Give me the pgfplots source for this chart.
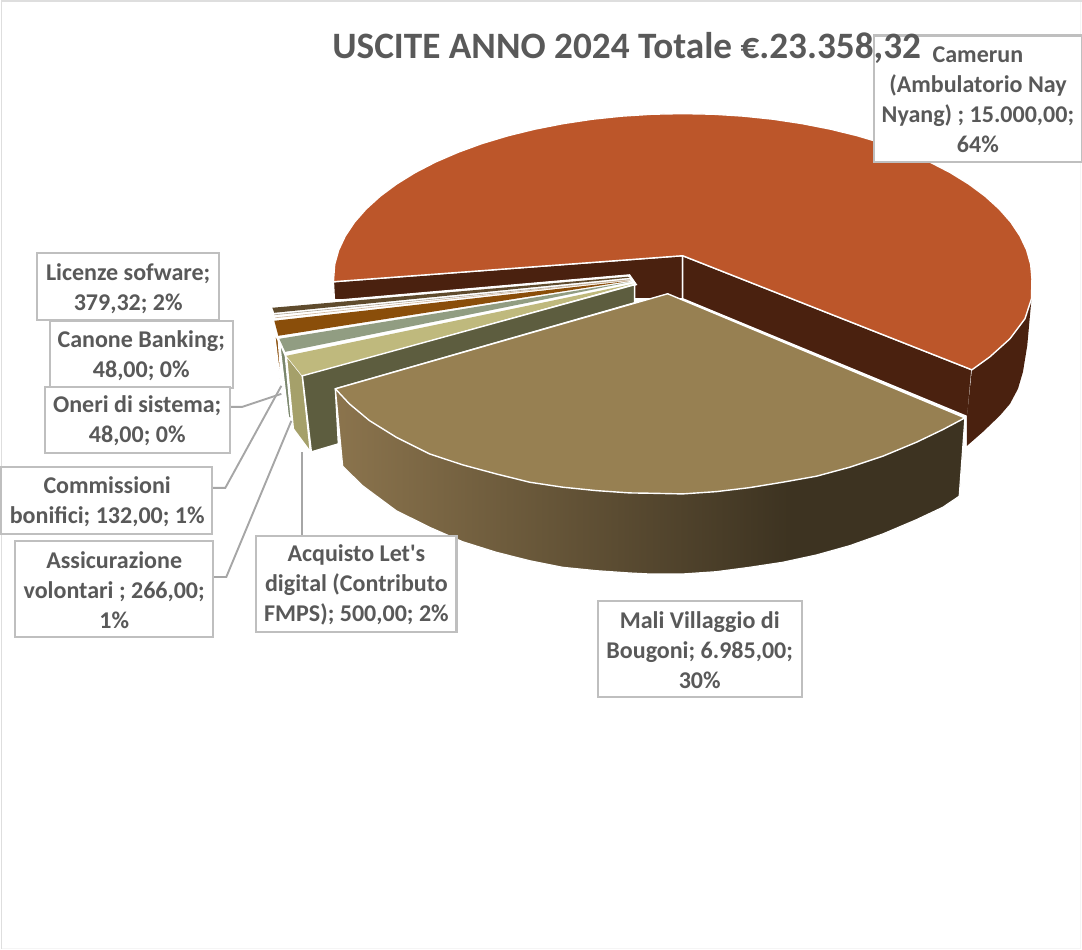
\documentclass[border=0pt]{standalone}
\usepackage{fontspec}
\newfontfamily\carl{Carlito}
\usepackage{pgfplots}
\pgfplotsset{compat=1.18}
\definecolor{txt}{RGB}{89,89,89}
\definecolor{rim}{RGB}{191,191,191}
\definecolor{lead}{RGB}{166,166,166}
\definecolor{redtop}{RGB}{188,86,42}
\definecolor{redside}{RGB}{74,33,15}
\definecolor{malitop}{RGB}{151,128,82}
\definecolor{maliL}{RGB}{139,116,77}
\definecolor{maliR}{RGB}{61,51,33}
\definecolor{olive}{RGB}{93,93,63}
\definecolor{khaki}{RGB}{191,185,125}
\definecolor{khakiS}{RGB}{165,160,106}
\definecolor{sage}{RGB}{145,157,130}
\definecolor{sageS}{RGB}{122,134,108}
\definecolor{tan1}{RGB}{138,78,10}
\definecolor{lic}{RGB}{95,75,45}
\pgfdeclarehorizontalshading{mali}{100bp}{color(0bp)=(maliL); color(25bp)=(maliL); color(61bp)=(maliR); color(100bp)=(maliR)}
\newcommand{\lab}[3]{\node[align=center,text=txt,font=\carl\bfseries\fontsize{24}{30}\selectfont,inner sep=0pt] at (axis cs:#1,#2) {#3};}
\begin{document}
\begin{tikzpicture}
\begin{axis}[
  scale only axis, width=1082pt, height=950pt,
  xmin=0, xmax=1082, ymin=0, ymax=950, y dir=reverse,
  hide axis, no marks,
  slice/.style={draw=white, line width=1.4pt, line join=round, fill=#1},
  box/.style={draw=rim, line width=2.2pt, fill=white},
  leader/.style={draw=lead, line width=1.9pt},
]
% frame of the chart area
\addplot[draw=black!4, line width=1pt] coordinates {(1080,2) (1080,949) (2,949)};
\addplot[draw=black!13, line width=1.5pt] coordinates {(2.5,950) (2.5,2.5) (1082,2.5)};

% Camerun: inner walls, outer wall, top
\addplot[slice=redside] coordinates {(683,257) (334,283) (335,301) (683,300)} --cycle;
\addplot[slice=redside] coordinates {(683,257) (972,371) (968,418) (683,300)} --cycle;
\addplot[fill=redside, draw=none] coordinates {(1031.7,298) (1030,316.7) (1027.3,346.7) (1023,373) (1018,390) (1010,405) (1000,416.7) (983,433) (967,447) (967,418) (972,371)} --cycle;
\addplot[slice=redtop] coordinates {(683,257) (334,283) (335.3,265.6) (339.3,251.3) (345.9,237.3) (355,223.6) (366.7,210.3) (380.8,197.5) (397.1,185.4) (415.7,173.9) (436.2,163.3) (458.7,153.6) (482.8,144.8) (508.5,137.1) (535.5,130.5) (563.6,125) (592.7,120.6) (622.4,117.5) (652.6,115.6) (683,115) (713.4,115.6) (743.6,117.5) (773.3,120.6) (802.4,125) (830.5,130.5) (857.5,137.1) (883.2,144.8) (907.3,153.6) (929.8,163.3) (950.3,173.9) (968.9,185.4) (985.2,197.5) (999.3,210.3) (1011,223.6) (1020.1,237.3) (1026.7,251.3) (1030.7,265.6) (1032,280) (1031.5,300) (1025,320) (1010,340) (990,358) (972,371)} --cycle;

% small slices
\addplot[fill=white, draw=white, line width=1pt] coordinates {(272,307) (630,276) (637,286) (303,380) (285,360) (278,342) (274,332)} --cycle;
\addplot[slice=tan1] coordinates {(275,334) (279,342) (284,407)} --cycle;
\addplot[slice=sageS] coordinates {(280,343) (286,357) (292,421) (289,418)} --cycle;
\addplot[slice=khakiS] coordinates {(287,357) (303,377) (311,453) (294,430)} --cycle;
\addplot[fill=lic, draw=none] coordinates {(273,309) (275,314) (630,279) (628,278)} --cycle;
\addplot[draw=lic!50!white, line width=.6pt] coordinates {(275,316) (630,281)};
\addplot[draw=tan1!40!white, line width=.6pt] coordinates {(276,319) (630,281)};
\addplot[fill=tan1, draw=none] coordinates {(275,322) (279,337) (631,282)} --cycle;
\addplot[fill=sage, draw=none] coordinates {(280,340) (286,353) (632,283)} --cycle;
\addplot[fill=khaki, draw=none] coordinates {(287,357) (303,377) (634,285)} --cycle;

% Acquisto wall
\addplot[slice=olive] coordinates {(303,377) (635,286) (635,304) (336,390) (339,445) (312,453)} --cycle;

% Mali: wall and top
\addplot[draw=white, line width=1.2pt, shade, shading=mali] coordinates {(336,390) (343.3,467.3) (363,486.7) (396.7,511.7) (430,528.3) (463,542.7) (496.7,553.3) (530,561.7) (563,568.3) (596.7,571.7) (630,574) (650,575) (683,575) (716.7,572.7) (750,568.3) (783,563.3) (816.7,556) (850,546.7) (883,535) (916.7,520.7) (943,508.3) (959.3,497.3) (965,419)} --cycle;
\addplot[slice=malitop] coordinates {(668,295) (336,390) (350,405) (370,421.7) (396.7,438.3) (430,455) (463.3,466) (496.7,475) (530,483.3) (563.3,488.3) (596.7,491.7) (630,494) (650,494.3) (683,495) (716.7,492.7) (750,488.7) (783,483.3) (816.7,477.3) (850,468.3) (883,457.3) (916.7,443.3) (943,430.7) (965,419)} --cycle;

% leader lines
\addplot[leader] coordinates {(231,408) (243,408) (282,395)};
\addplot[leader] coordinates {(213,489) (226,489) (282,387)};
\addplot[leader] coordinates {(214,578) (227,578) (292,422)};
\addplot[leader] coordinates {(303,537) (303,453)};

% label boxes
\addplot[box] coordinates {(38,254) (220,254) (220,321) (38,321)} --cycle;
\addplot[box] coordinates {(51,322) (234,322) (234,389) (51,389)} --cycle;
\addplot[box] coordinates {(46,388) (231,388) (231,454) (46,454)} --cycle;
\addplot[box] coordinates {(2,468) (213,468) (213,535) (2,535)} --cycle;
\addplot[box] coordinates {(16,542) (214,542) (214,638) (16,638)} --cycle;
\addplot[box] coordinates {(257,537) (457,537) (457,633) (257,633)} --cycle;
\addplot[box] coordinates {(598,602) (802,602) (802,698) (598,698)} --cycle;
\addplot[box] coordinates {(874,37) (1082,37) (1082,163) (874,163)} --cycle;

\lab{129}{290}{Licenze sofware;\\379,32; 2\%}
\lab{142}{357}{Canone Banking;\\48,00; 0\%}
\lab{138}{422}{Oneri di sistema;\\48,00; 0\%}
\lab{108}{503}{Commissioni\\bonifici; 132,00; 1\%}
\lab{115}{591}{Assicurazione\\volontari ; 266,00;\\1\%}
\lab{357}{586}{Acquisto Let's\\digital (Contributo\\FMPS); 500,00; 2\%}
\lab{700}{651}{Mali Villaggio di\\Bougoni; 6.985,00;\\30\%}
\lab{978}{101}{Camerun\\(Ambulatorio Nay\\Nyang) ; 15.000,00;\\64\%}

\node[text=txt,font=\carl\bfseries\fontsize{37.2}{44}\selectfont,inner sep=0pt] at (axis cs:627,49) {USCITE ANNO 2024 Totale €.23.358,32};
\end{axis}
\end{tikzpicture}
\end{document}
